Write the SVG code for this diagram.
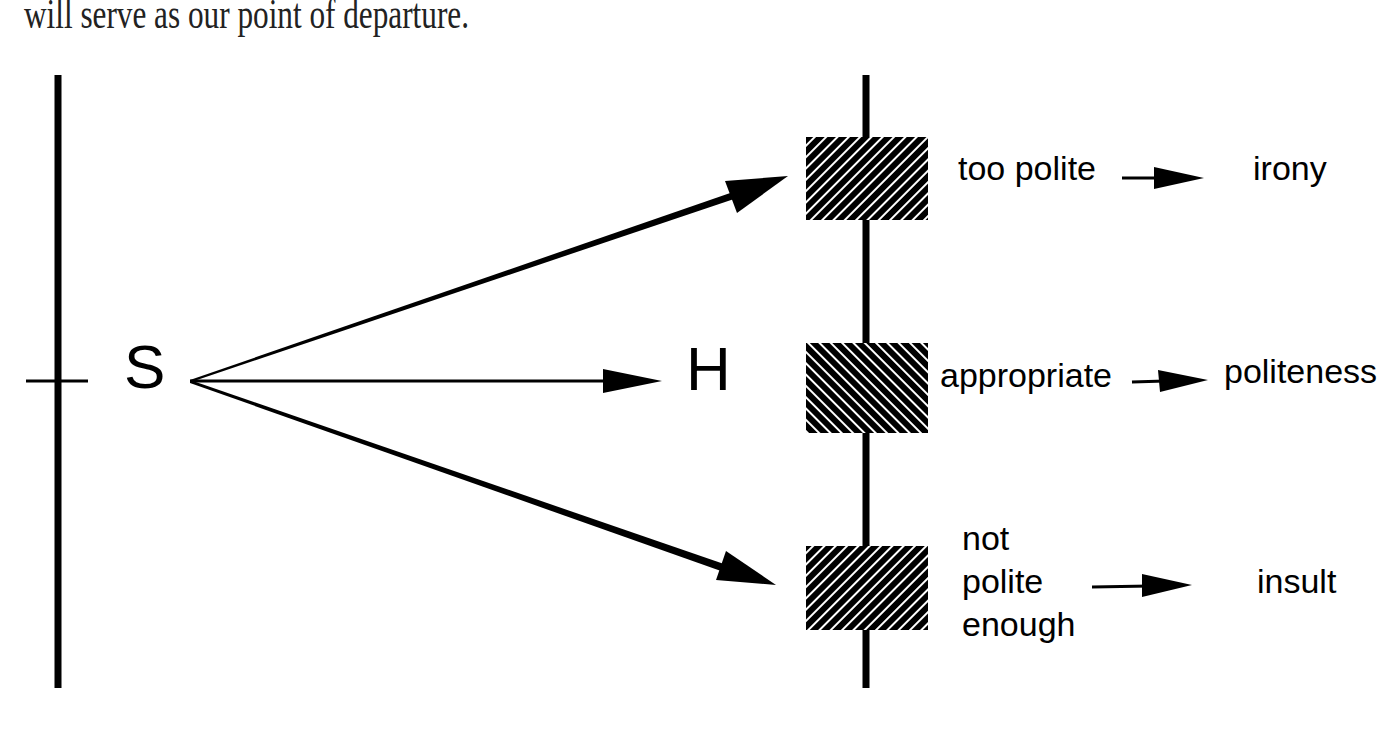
<svg xmlns="http://www.w3.org/2000/svg" width="1394" height="731" viewBox="0 0 1394 731">
<defs>
<pattern id="hf" width="8" height="8" patternUnits="userSpaceOnUse" patternTransform="rotate(45)"><rect width="8" height="8" fill="#000"/><rect x="0" y="0" width="2" height="8" fill="#fff"/></pattern>
<pattern id="hb" width="8" height="8" patternUnits="userSpaceOnUse" patternTransform="rotate(-45)"><rect width="8" height="8" fill="#000"/><rect x="0" y="0" width="2" height="8" fill="#fff"/></pattern>
</defs>
<style>
.t{font-family:"Liberation Sans",Arial,sans-serif;font-size:34px;fill:#000}
.big{font-family:"Liberation Sans",Arial,sans-serif;font-size:62px;fill:#000}
.ax{stroke:#000;stroke-width:7;fill:none}
.c{stroke:#000;fill:none}
</style>
<rect width="1394" height="731" fill="#fff"/>
<text x="24" y="28" font-family="Liberation Serif,serif" font-size="42" textLength="445" lengthAdjust="spacingAndGlyphs" fill="#222">will serve as our point of departure.</text>
<g id="axes">
<line class="ax" x1="58" y1="75" x2="58" y2="688"/>
<line class="c" stroke-width="3" x1="26" y1="381" x2="88" y2="381"/>
<line class="ax" x1="866" y1="75" x2="866" y2="688"/>
</g>
<g id="S"><text class="big" x="124" y="388">S</text></g>
<g id="H"><text class="big" x="686" y="390">H</text></g>
<g id="box-top"><rect x="806" y="137" width="122" height="83" fill="url(#hf)"/></g>
<g id="box-mid"><rect x="806" y="343" width="122" height="90" fill="url(#hb)"/></g>
<g id="box-bot"><rect x="806" y="546" width="122" height="84" fill="url(#hf)"/></g>
<g id="labels">
<text class="t" x="958" y="180">too polite</text>
<text class="t" x="1253" y="180">irony</text>
<text class="t" x="940" y="387">appropriate</text>
<text class="t" x="1224" y="383">politeness</text>
<text class="t" x="962" y="550">not</text>
<text class="t" x="962" y="593">polite</text>
<text class="t" x="962" y="636">enough</text>
<text class="t" x="1257" y="593">insult</text>
</g>
<g id="connectors">
<line class="c" stroke-width="3" x1="190" y1="381" x2="610" y2="381"/>
<path d="M603,369 L662,381 L603,393 Z"/>
<path d="M190,380 L736,191 L737,198 L191,382 Z"/>
<path d="M725,181 L788,176 L737,213 Z"/>
<path d="M190,380 L724,564 L721,571 L190,383 Z"/>
<path d="M726,551 L776,585 L716,580 Z"/>
<line class="c" stroke-width="3" x1="1122" y1="178" x2="1160" y2="178"/>
<path d="M1154,167 L1204,178 L1154,189 Z"/>
<line class="c" stroke-width="3" x1="1132" y1="382" x2="1165" y2="381"/>
<path d="M1158,370 L1208,380 L1160,392 Z"/>
<line class="c" stroke-width="3" x1="1092" y1="587" x2="1150" y2="586"/>
<path d="M1142,574 L1192,585 L1142,597 Z"/>
</g>
</svg>
